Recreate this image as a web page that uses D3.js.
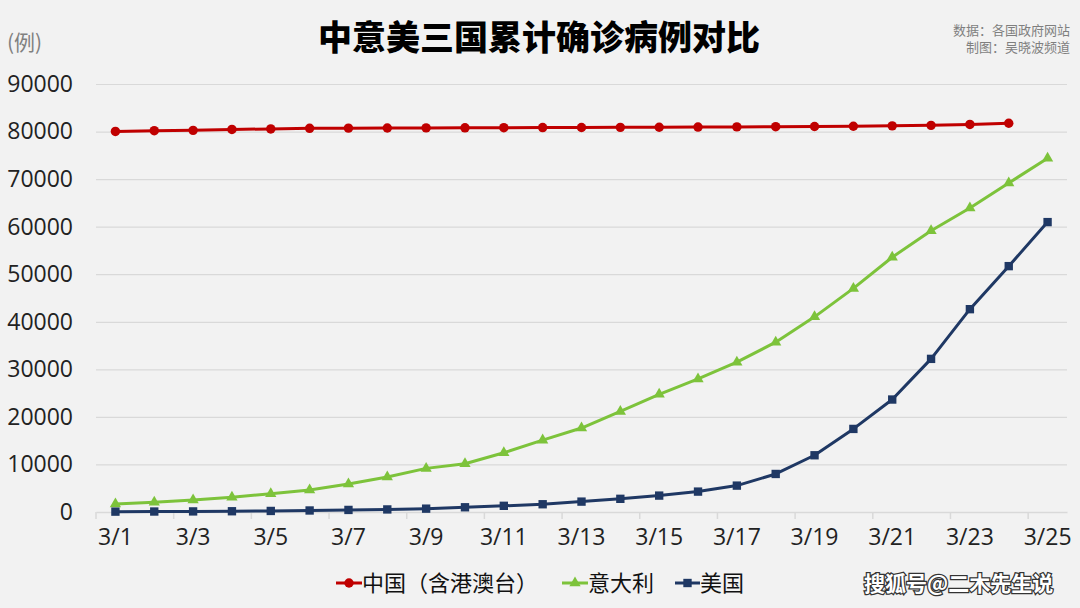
<!DOCTYPE html>
<html>
<head>
<meta charset="utf-8">
<script src="https://cdn.jsdelivr.net/npm/d3@7"></script>
<style>
  html, body { margin: 0; padding: 0; background: #F2F2F2; }
  svg { display: block; }
</style>
</head>
<body>
<svg id="chart" width="1080" height="608"></svg>
<script>
const categories = ["3/1","3/2","3/3","3/4","3/5","3/6","3/7","3/8","3/9","3/10","3/11","3/12","3/13","3/14","3/15","3/16","3/17","3/18","3/19","3/20","3/21","3/22","3/23","3/24","3/25"];
const chinaValues = [80026,80180,80250,80450,80550,80680,80720,80750,80770,80790,80810,80840,80860,80880,80900,80950,80980,81020,81060,81120,81200,81300,81500,81750];
const italyValues = [1694,2036,2502,3089,3858,4636,5883,7375,9172,10149,12462,15113,17660,21157,24747,27980,31506,35713,41035,47021,53578,59138,63927,69176,74386];
const usValues = [75,100,124,158,221,319,435,541,704,994,1301,1630,2183,2770,3450,4290,5550,8000,11930,17470,23650,32200,42650,51700,60960];
const yTicks = [0,10000,20000,30000,40000,50000,60000,70000,80000,90000];
const xLabels = ["3/1","3/3","3/5","3/7","3/9","3/11","3/13","3/15","3/17","3/19","3/21","3/23","3/25"];
const seriesNames = ["中国（含港澳台）","意大利","美国"];
const titleText = "中意美三国累计确诊病例对比";
const unitText = "(例)";
const sourceLines = ["数据：各国政府网站","制图：吴晓波频道"];
const watermark = "搜狐号@二木先生说";

const colors = ["#C00000","#7DC33B","#1F3864"];
const numFont = "'Open Sans','Noto Sans',sans-serif";
const cjkFont = "'Noto Sans CJK SC',sans-serif";

const svg = d3.select("#chart");
const pLeft = 96, pRight = 1067, pTop = 84, pBottom = 512;

const x = d3.scaleBand().domain(categories).range([pLeft, pRight]).padding(0);
const y = d3.scaleLinear().domain([0, 90000]).range([pBottom, pTop]);
const cx = d => x(d) + x.bandwidth() / 2;

// gridlines
const grid = svg.append("g").attr("transform", `translate(${pLeft},0)`)
  .call(d3.axisLeft(y).tickValues(yTicks.filter(v => v > 0)).tickSize(-(pRight - pLeft)).tickFormat(""));
grid.select(".domain").remove();
grid.selectAll("line").attr("stroke", "#D9D9D9").attr("stroke-width", 1.2);

// y axis labels
const yAxis = svg.append("g").attr("transform", `translate(${pLeft},0)`)
  .call(d3.axisLeft(y).tickValues(yTicks).tickSize(0).tickPadding(23).tickFormat(d3.format("d")));
yAxis.select(".domain").remove();
yAxis.selectAll("text").attr("font-family", numFont).attr("font-size", 23).attr("fill", "#222");

// x axis line + tick marks at boundaries
const xAxisG = svg.append("g").attr("transform", `translate(0,${pBottom})`)
  .call(d3.axisBottom(x).tickValues(xLabels).tickSize(0).tickPadding(17));
xAxisG.select(".domain").attr("stroke", "#D9D9D9").attr("stroke-width", 1.5);
xAxisG.selectAll("text").attr("font-family", numFont).attr("font-size", 23).attr("fill", "#222");
svg.append("g").selectAll("line")
  .data(categories.filter((c, i) => i % 2 === 0))
  .join("line")
  .attr("x1", d => x(d)).attr("x2", d => x(d))
  .attr("y1", pBottom).attr("y2", pBottom + 7)
  .attr("stroke", "#D9D9D9").attr("stroke-width", 1.5);

const line = d3.line().x(d => cx(d.c)).y(d => y(d.v));
const series = [chinaValues, italyValues, usValues].map((vals, i) => ({
  name: seriesNames[i], color: colors[i], pts: vals.map((v, j) => ({ c: categories[j], v }))
}));

const symbols = [d3.symbolCircle, d3.symbolTriangle, d3.symbolSquare];
const symSizes = [70, 55, 70];

series.forEach((s, i) => {
  svg.append("path").datum(s.pts)
    .attr("d", line).attr("fill", "none")
    .attr("stroke", s.color).attr("stroke-width", 3).attr("stroke-linejoin", "round");
  svg.append("g").selectAll("path").data(s.pts).join("path")
    .attr("transform", d => `translate(${cx(d.c)},${y(d.v)})`)
    .attr("d", d3.symbol().type(symbols[i]).size(symSizes[i]))
    .attr("fill", s.color);
});

// title
svg.append("text").attr("x", 539).attr("y", 50).attr("text-anchor", "middle")
  .attr("font-family", cjkFont).attr("font-weight", 900).attr("font-size", 34)
  .attr("fill", "#000").text(titleText);

svg.append("text").attr("x", 7).attr("y", 50)
  .attr("font-family", cjkFont).attr("font-size", 21).attr("fill", "#808080").text(unitText);

sourceLines.forEach((t, i) => {
  svg.append("text").attr("x", 1070).attr("y", 35 + i * 17).attr("text-anchor", "end")
    .attr("font-family", cjkFont).attr("font-size", 13).attr("fill", "#7F7F7F").text(t);
});

// legend
const legendItems = [
  { x: 336, textX: 362 },
  { x: 562, textX: 588 },
  { x: 675, textX: 700 }
];
const ly = 583;
series.forEach((s, i) => {
  const li = legendItems[i];
  svg.append("line").attr("x1", li.x).attr("x2", li.textX).attr("y1", ly).attr("y2", ly)
    .attr("stroke", s.color).attr("stroke-width", 3);
  svg.append("path").attr("transform", `translate(${(li.x + li.textX) / 2},${ly})`)
    .attr("d", d3.symbol().type(symbols[i]).size(symSizes[i])).attr("fill", s.color);
  svg.append("text").attr("x", li.textX).attr("y", ly + 8)
    .attr("font-family", cjkFont).attr("font-size", 22).attr("fill", "#111").text(s.name);
});

// watermark
svg.append("text").attr("x", 864).attr("y", 591)
  .attr("font-family", cjkFont).attr("font-size", 21).attr("font-weight", 700)
  .attr("fill", "#fff").attr("stroke", "#333").attr("stroke-width", 2.5)
  .attr("paint-order", "stroke").text(watermark);
</script>
</body>
</html>
